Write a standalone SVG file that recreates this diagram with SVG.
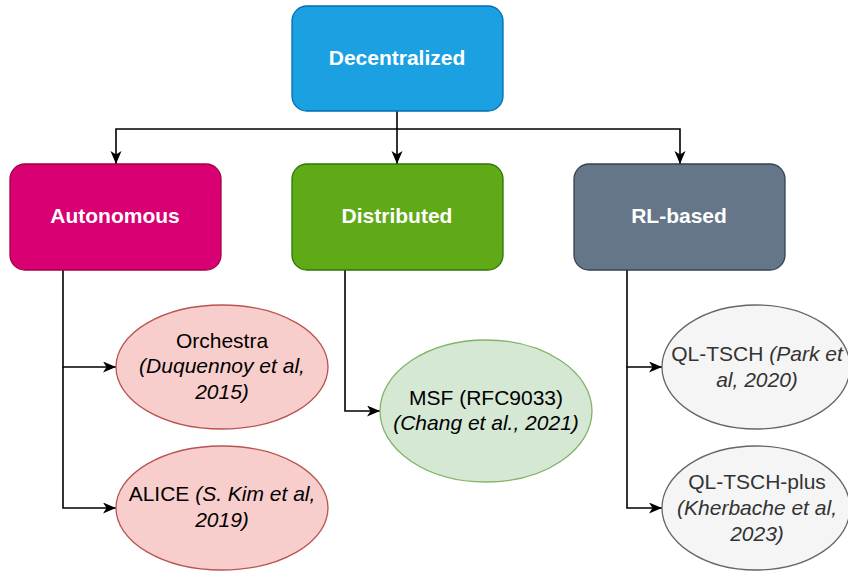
<svg xmlns="http://www.w3.org/2000/svg" width="848" height="572" viewBox="0 0 848 572">
  <defs>
    <marker id="arrow" markerUnits="userSpaceOnUse" markerWidth="14" markerHeight="12" refX="13" refY="5.5" orient="auto">
      <path d="M0,0 L13,5.5 L0,11 L3.5,5.5 Z" fill="#000"/>
    </marker>
    <style>
      .box { stroke-width: 1.3; }
      .title { font-family: "Liberation Sans", Arial, sans-serif; font-size: 21px; font-weight: bold; fill: #ffffff; text-anchor: middle; }
      .leaf { font-family: "Liberation Sans", Arial, sans-serif; font-size: 21px; text-anchor: middle; }
      .it { font-style: italic; }
      .edge { fill: none; stroke: #000; stroke-width: 1.6; }
    </style>
  </defs>
  <rect width="848" height="572" fill="#ffffff"/>

  <!-- connectors -->
  <g id="connectors">
    <path class="edge" d="M397,111 V129 H116 V164" marker-end="url(#arrow)"/>
    <path class="edge" d="M397,129 V164" marker-end="url(#arrow)"/>
    <path class="edge" d="M397,129 H680 V164" marker-end="url(#arrow)"/>
    <path class="edge" d="M63,270 V367 H116" marker-end="url(#arrow)"/>
    <path class="edge" d="M63,367 V508 H116" marker-end="url(#arrow)"/>
    <path class="edge" d="M345,270 V411 H380" marker-end="url(#arrow)"/>
    <path class="edge" d="M627,270 V367 H662" marker-end="url(#arrow)"/>
    <path class="edge" d="M627,367 V508 H662" marker-end="url(#arrow)"/>
  </g>

  <!-- category boxes -->
  <g id="decentralized">
    <rect class="box" x="292" y="6" width="211" height="105" rx="15" fill="#1ba1e2" stroke="#006eaf"/>
    <text class="title" x="397" y="65">Decentralized</text>
  </g>
  <g id="autonomous">
    <rect class="box" x="10" y="164" width="211" height="106" rx="15" fill="#d80073" stroke="#a50040"/>
    <text class="title" x="115" y="223">Autonomous</text>
  </g>
  <g id="distributed">
    <rect class="box" x="292" y="164" width="211" height="106" rx="15" fill="#60a917" stroke="#2d7600"/>
    <text class="title" x="397" y="223">Distributed</text>
  </g>
  <g id="rl-based">
    <rect class="box" x="574" y="164" width="211" height="106" rx="15" fill="#647687" stroke="#314354"/>
    <text class="title" x="679" y="223">RL-based</text>
  </g>

  <!-- schemes -->
  <g id="orchestra">
    <ellipse cx="222" cy="367" rx="106" ry="62" fill="#f8cecc" stroke="#b85450" stroke-width="1.3"/>
    <text class="leaf" x="222" y="348" fill="#000">Orchestra</text>
    <text class="leaf it" x="222" y="373" fill="#000">(Duquennoy et al,</text>
    <text class="leaf it" x="222" y="399" fill="#000">2015)</text>
  </g>
  <g id="alice">
    <ellipse cx="222" cy="508" rx="106" ry="62" fill="#f8cecc" stroke="#b85450" stroke-width="1.3"/>
    <text class="leaf" x="222" y="501" fill="#000">ALICE <tspan class="it">(S. Kim et al,</tspan></text>
    <text class="leaf it" x="222" y="527" fill="#000">2019)</text>
  </g>
  <g id="msf">
    <ellipse cx="486" cy="411" rx="106" ry="71" fill="#d5e8d4" stroke="#82b366" stroke-width="1.3"/>
    <text class="leaf" x="486" y="405" fill="#000">MSF (RFC9033)</text>
    <text class="leaf it" x="486" y="430" fill="#000">(Chang et al., 2021)</text>
  </g>
  <g id="ql-tsch">
    <ellipse cx="756" cy="367" rx="94" ry="62" fill="#f5f5f5" stroke="#666666" stroke-width="1.3"/>
    <text class="leaf" x="757" y="361" fill="#333333">QL-TSCH <tspan class="it">(Park et</tspan></text>
    <text class="leaf it" x="757" y="387" fill="#333333">al, 2020)</text>
  </g>
  <g id="ql-tsch-plus">
    <ellipse cx="756" cy="508" rx="94" ry="62" fill="#f5f5f5" stroke="#666666" stroke-width="1.3"/>
    <text class="leaf" x="757" y="489" fill="#333333">QL-TSCH-plus</text>
    <text class="leaf it" x="757" y="515" fill="#333333">(Kherbache et al,</text>
    <text class="leaf it" x="757" y="541" fill="#333333">2023)</text>
  </g>
</svg>
